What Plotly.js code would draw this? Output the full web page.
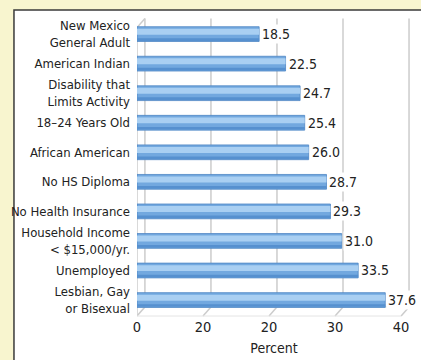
<!DOCTYPE html>
<html>
<head>
<meta charset="utf-8">
<script src="https://cdn.plot.ly/plotly-3.0.1.min.js"></script>
<style>html,body{margin:0;padding:0;background:#f8f5cf;}#chart{width:421px;height:360px;}</style>
</head>
<body>
<div id="chart"></div>
<script>
const categories = [
  "New Mexico<br>General Adult",
  "American Indian",
  "Disability that<br>Limits Activity",
  "18–24 Years Old",
  "African American",
  "No HS Diploma",
  "No Health Insurance",
  "Household Income<br>< $15,000/yr.",
  "Unemployed",
  "Lesbian, Gay<br>or Bisexual"
];
const values = [18.5, 22.5, 24.7, 25.4, 26.0, 28.7, 29.3, 31.0, 33.5, 37.6];
const valueLabels = ["18.5", "22.5", "24.7", "25.4", "26.0", "28.7", "29.3", "31.0", "33.5", "37.6"];
const tickVals = [0, 10, 20, 30, 40];
const tickText = ["0", "20", "20", "30", "40"];

const FONT = '"DejaVu Sans Condensed", "Liberation Sans Narrow", "Liberation Sans", sans-serif';
const FS = 13;
const depth = 1.2;   // 3D floor offset in x units
const floorY = 0.03; // 3D floor offset in paper units

const base = {
  type: 'bar', orientation: 'h', x: values, y: categories,
  width: 0.5, offset: -0.25,
  marker: {color: '#72a8df', line: {color: '#4f86c4', width: 0.8}},
  hoverinfo: 'skip', showlegend: false
};
const highlight = {
  type: 'bar', orientation: 'h', x: values, y: categories,
  width: 0.2, offset: -0.18,
  marker: {color: '#a9cff2', line: {width: 0}},
  hoverinfo: 'skip', showlegend: false
};
const shade = {
  type: 'bar', orientation: 'h', x: values, y: categories,
  width: 0.09, offset: 0.14,
  marker: {color: '#5690cf', line: {width: 0}},
  hoverinfo: 'skip', showlegend: false
};

const shapes = [
  {type: 'rect', xref: 'paper', yref: 'paper', x0: -0.449, x1: 2, y0: -1, y1: 1.013,
   fillcolor: '#ffffff', line: {color: '#3a3a3a', width: 1.5}, layer: 'below'}
];
const gridColor = '#cccccc';
tickVals.forEach(t => {
  shapes.push({type: 'line', xref: 'x', yref: 'paper', x0: t, x1: t + depth, y0: 0, y1: floorY,
    line: {color: gridColor, width: 1.5}, layer: 'below'});
  shapes.push({type: 'line', xref: 'x', yref: 'paper', x0: t + depth, x1: t + depth, y0: floorY, y1: 0.985,
    line: {color: gridColor, width: 1.5}, layer: 'below'});
});
shapes.push({type: 'line', xref: 'x', yref: 'paper', x0: 0, x1: 0, y0: 0, y1: 0.955,
  line: {color: gridColor, width: 1.5}, layer: 'below'});
shapes.push({type: 'line', xref: 'x', yref: 'paper', x0: 0, x1: depth, y0: 0.955, y1: 0.985,
  line: {color: gridColor, width: 1.5}, layer: 'below'});
shapes.push({type: 'line', xref: 'x', yref: 'paper', x0: depth, x1: tickVals[tickVals.length-1] + depth, y0: floorY, y1: floorY,
  line: {color: '#e4e4e4', width: 1}, layer: 'below'});
shapes.push({type: 'line', xref: 'x', yref: 'paper', x0: 0, x1: tickVals[tickVals.length-1], y0: 0, y1: 0,
  line: {color: '#e4e4e4', width: 1}, layer: 'below'});

const annotations = values.map((v, i) => ({
  x: v, y: categories[i], xref: 'x', yref: 'y',
  text: valueLabels[i], showarrow: false, xanchor: 'left', xshift: 1,
  bgcolor: '#ffffff', borderpad: 1,
  font: {family: FONT, size: 14, color: '#222222'}
}));

const layout = {
  width: 421, height: 360,
  margin: {l: 137, r: 10, t: 14, b: 44},
  paper_bgcolor: '#f8f5cf',
  plot_bgcolor: 'rgba(0,0,0,0)',
  barmode: 'overlay',
  font: {family: FONT, size: FS, color: '#222222'},
  xaxis: {
    range: [0, 41.5], tickvals: tickVals, ticktext: tickText,
    showgrid: false, zeroline: false, showline: false, ticks: '',
    tickfont: {family: FONT, size: 14.5, color: '#222222'},
    title: {text: 'Percent', font: {family: FONT, size: 14, color: '#222222'}, standoff: 9}
  },
  yaxis: {
    type: 'category', range: [9.54, -0.68],
    showgrid: false, zeroline: false, showline: false, ticks: '',
    ticklabelstandoff: 6,
    tickfont: {family: FONT, size: FS, color: '#222222'}
  },
  shapes: shapes,
  annotations: annotations
};

Plotly.newPlot('chart', [base, highlight, shade], layout, {displayModeBar: false, staticPlot: true});
</script>
</body>
</html>
